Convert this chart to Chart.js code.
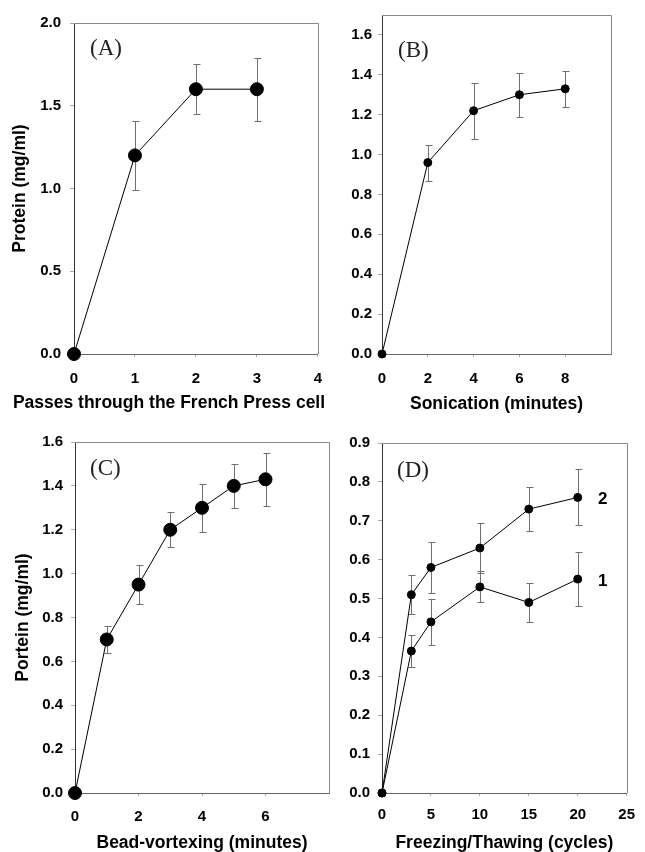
<!DOCTYPE html>
<html><head><meta charset="utf-8">
<script src="https://cdn.jsdelivr.net/npm/chart.js@4.4.1/dist/chart.umd.min.js"></script>
<style>
html,body{margin:0;padding:0;background:#fff;}
#wrap{position:relative;width:645px;height:852px;overflow:hidden;background:#fff;}
canvas{position:absolute;}
</style></head><body>
<div id="wrap">
<canvas id="cA" width="335" height="420" style="left:0px;top:0px"></canvas>
<canvas id="cB" width="310" height="420" style="left:335px;top:0px"></canvas>
<canvas id="cC" width="340" height="442" style="left:0px;top:410px"></canvas>
<canvas id="cD" width="305" height="442" style="left:340px;top:410px"></canvas>
</div>
<script>
// ---- Data ----
const passesA = [0, 1, 2, 3];
const proteinA = [0, 1.20, 1.60, 1.60];
const errA = [0, 0.21, 0.15, 0.19];

const minutesB = [0, 2, 4, 6, 8];
const proteinB = [0, 0.96, 1.22, 1.30, 1.33];
const errB = [0, 0.09, 0.14, 0.11, 0.09];

const minutesC = [0, 1, 2, 3, 4, 5, 6];
const proteinC = [0, 0.70, 0.95, 1.20, 1.30, 1.40, 1.43];
const errC = [0, 0.06, 0.09, 0.08, 0.11, 0.10, 0.12];

const cyclesD = [0, 3, 5, 10, 15, 20];
const proteinD2 = [0, 0.51, 0.58, 0.63, 0.73, 0.76];
const errD2 = [0, 0.05, 0.065, 0.065, 0.057, 0.072];
const proteinD1 = [0, 0.365, 0.44, 0.53, 0.49, 0.55];
const errD1 = [0, 0.041, 0.06, 0.04, 0.05, 0.07];

// ---- Tick labels ----
const xTicksA = [0, 1, 2, 3, 4];
const yTicksA = [0, 0.5, 1.0, 1.5, 2.0];
const xTicksB = [0, 2, 4, 6, 8];
const yTicksB = [0, 0.2, 0.4, 0.6, 0.8, 1.0, 1.2, 1.4, 1.6];
const xTicksC = [0, 2, 4, 6];
const yTicksC = [0, 0.2, 0.4, 0.6, 0.8, 1.0, 1.2, 1.4, 1.6];
const xTicksD = [0, 5, 10, 15, 20, 25];
const yTicksD = [0, 0.1, 0.2, 0.3, 0.4, 0.5, 0.6, 0.7, 0.8, 0.9];

// ---- Texts ----
const panelLabels = ['(A)', '(B)', '(C)', '(D)'];
const xTitles = ['Passes through the French Press cell', 'Sonication (minutes)', 'Bead-vortexing (minutes)', 'Freezing/Thawing (cycles)'];
const yTitles = ['Protein (mg/ml)', '', 'Portein (mg/ml)', ''];
const seriesNamesD = ['2', '1'];

const SANS = "'Liberation Sans', Arial, sans-serif";
const SERIF = "'Liberation Serif', 'Times New Roman', serif";
const TITLE_SIZE = 17.5;

const overlay = {
  id: 'overlay',
  beforeDatasetsDraw(chart, args, o) {
    const ctx = chart.ctx, xs = chart.scales.x, ys = chart.scales.y;
    ctx.save();
    ctx.strokeStyle = '#707070';
    ctx.lineWidth = 1;
    chart.data.datasets.forEach(ds => {
      ds.data.forEach((p, i) => {
        const e = ds.errors[i];
        if (!e) return;
        const x = Math.round(xs.getPixelForValue(p.x)) + 0.5;
        const y1 = Math.round(ys.getPixelForValue(p.y + e)) + 0.5;
        const y2 = Math.round(ys.getPixelForValue(p.y - e)) + 0.5;
        ctx.beginPath();
        ctx.moveTo(x, y1); ctx.lineTo(x, y2);
        ctx.moveTo(x - 3, y1); ctx.lineTo(x + 4, y1);
        ctx.moveTo(x - 3, y2); ctx.lineTo(x + 4, y2);
        ctx.stroke();
      });
    });
    ctx.restore();
  },
  afterDraw(chart, args, o) {
    const ctx = chart.ctx, a = chart.chartArea, xs = chart.scales.x, ys = chart.scales.y;
    ctx.save();
    // top and right frame lines
    ctx.strokeStyle = '#8a8a8a';
    ctx.lineWidth = 1;
    ctx.beginPath();
    ctx.moveTo(Math.round(a.left), Math.round(a.top) + 0.5);
    ctx.lineTo(Math.round(a.right) + 0.5, Math.round(a.top) + 0.5);
    ctx.lineTo(Math.round(a.right) + 0.5, Math.round(a.bottom));
    ctx.stroke();
    // panel label
    ctx.fillStyle = '#222';
    ctx.font = '23px ' + SERIF;
    ctx.textAlign = 'left';
    ctx.textBaseline = 'middle';
    ctx.fillText(o.panel, a.left + o.pdx, a.top + o.pdy);
    // series labels at ends
    if (o.seriesNames) {
      ctx.fillStyle = '#000';
      ctx.font = 'bold 17px ' + SANS;
      ctx.textAlign = 'center';
      chart.data.datasets.forEach((ds, k) => {
        const last = ds.data[ds.data.length - 1];
        ctx.fillText(o.seriesNames[k], xs.getPixelForValue(last.x) + 25, ys.getPixelForValue(last.y) + 2);
      });
    }
    // custom x title (offset centre)
    if (o.xTitle) {
      ctx.fillStyle = '#000';
      ctx.font = 'bold ' + TITLE_SIZE + 'px ' + SANS;
      ctx.textAlign = 'center';
      ctx.textBaseline = 'middle';
      ctx.fillText(o.xTitle, o.xTitleX, o.xTitleY);
    }
    ctx.restore();
  }
};

function pts(xv, yv) { return xv.map((x, i) => ({ x: x, y: yv[i] })); }

function makePanel(p) {
  const tickFont = { family: SANS, size: 15, weight: 'bold' };
  const titleFont = { family: SANS, size: TITLE_SIZE, weight: 'bold', lineHeight: 1 };
  const datasets = p.series.map(s => ({
    data: pts(p.xv, s.y),
    errors: s.err,
    borderColor: '#000',
    borderWidth: 1,
    backgroundColor: '#000',
    pointBackgroundColor: '#000',
    pointBorderColor: '#000',
    pointRadius: p.radius,
    pointHoverRadius: p.radius,
    tension: 0,
    clip: false
  }));
  new Chart(document.getElementById(p.id), {
    type: 'line',
    data: { datasets: datasets },
    plugins: [overlay],
    options: {
      responsive: false,
      animation: false,
      devicePixelRatio: 1,
      layout: { padding: { top: p.padTop, right: p.padRight, left: 0, bottom: 0 } },
      plugins: {
        legend: { display: false },
        tooltip: { enabled: false },
        overlay: {
          panel: p.panel, pdx: p.pdx, pdy: p.pdy,
          seriesNames: p.seriesNames || null,
          xTitle: p.customXTitle || null, xTitleX: p.xTitleX, xTitleY: p.xTitleY
        }
      },
      scales: {
        x: {
          type: 'linear', min: p.xMin, max: p.xMax,
          afterBuildTicks: s => { s.ticks = p.xTicks.map(v => ({ value: v })); },
          afterFit: s => { s.height = p.xHeight; },
          grid: { display: true, drawOnChartArea: false, drawTicks: true, tickLength: 3, color: '#aaa' },
          border: { display: true, color: '#666', width: 1 },
          ticks: { font: tickFont, color: '#000', padding: p.xTickPad, autoSkip: false, maxRotation: 0,
                   callback: v => String(v) },
          title: { display: !!p.xTitle, text: p.xTitle, font: titleFont,
                   color: '#000', padding: { top: 0, bottom: p.xTitlePad } }
        },
        y: {
          type: 'linear', min: p.yMin, max: p.yMax,
          afterBuildTicks: s => { s.ticks = p.yTicks.map(v => ({ value: v })); },
          afterFit: s => { s.width = p.yWidth; },
          grid: { display: true, drawOnChartArea: false, drawTicks: true, tickLength: 4, color: '#aaa' },
          border: { display: true, color: '#333', width: 1 },
          ticks: { font: tickFont, color: '#000', padding: p.yTickPad, autoSkip: false,
                   callback: v => Number(v).toFixed(1) },
          title: { display: !!p.yTitle, text: p.yTitle, font: titleFont,
                   color: '#000', padding: { top: p.yTitlePad, bottom: 0 } }
        }
      }
    }
  });
}

makePanel({ id: 'cA', xv: passesA, series: [{ y: proteinA, err: errA }],
  xMin: 0, xMax: 4, yMin: 0, yMax: 2.0, xTicks: xTicksA, yTicks: yTicksA,
  padTop: 23, padRight: 15, yWidth: 74, xHeight: 66, xTickPad: 13, yTickPad: 9,
  xTitle: '', customXTitle: xTitles[0], xTitleX: 169, xTitleY: 403, xTitlePad: 9,
  yTitle: yTitles[0], yTitlePad: 11, radius: 6.5, panel: panelLabels[0], pdx: 16, pdy: 26 });

makePanel({ id: 'cB', xv: minutesB, series: [{ y: proteinB, err: errB }],
  xMin: 0, xMax: 10, yMin: 0, yMax: 1.7, xTicks: xTicksB, yTicks: yTicksB,
  padTop: 13, padRight: 34, yWidth: 47, xHeight: 66, xTickPad: 13, yTickPad: 6,
  xTitle: xTitles[1], xTitlePad: 7,
  yTitle: '', yTitlePad: 0, radius: 4, panel: panelLabels[1], pdx: 16, pdy: 36 });

makePanel({ id: 'cC', xv: minutesC, series: [{ y: proteinC, err: errC }],
  xMin: 0, xMax: 8, yMin: 0, yMax: 1.6, xTicks: xTicksC, yTicks: yTicksC,
  padTop: 32, padRight: 11, yWidth: 75, xHeight: 59, xTickPad: 12, yTickPad: 8,
  xTitle: xTitles[2], xTitlePad: 0,
  yTitle: yTitles[2], yTitlePad: 14, radius: 6.5, panel: panelLabels[2], pdx: 15, pdy: 27 });

makePanel({ id: 'cD', xv: cyclesD, series: [{ y: proteinD2, err: errD2 }, { y: proteinD1, err: errD1 }],
  xMin: 0, xMax: 25, yMin: 0, yMax: 0.9, xTicks: xTicksD, yTicks: yTicksD,
  padTop: 33, padRight: 11, yWidth: 42, xHeight: 59, xTickPad: 10, yTickPad: 8,
  xTitle: xTitles[3], xTitlePad: 0,
  yTitle: '', yTitlePad: 0, radius: 4, panel: panelLabels[3], pdx: 15, pdy: 28,
  seriesNames: seriesNamesD });
</script>
</body></html>
